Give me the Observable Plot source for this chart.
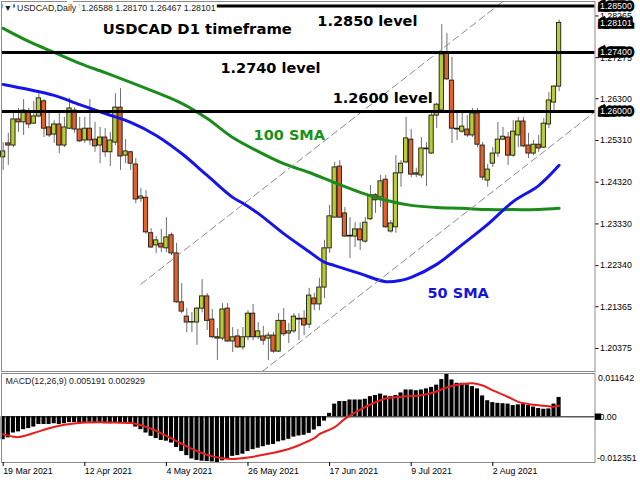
<!DOCTYPE html>
<html><head><meta charset="utf-8">
<script src="https://cdn.jsdelivr.net/npm/d3@7"></script>
<script src="https://cdn.jsdelivr.net/npm/@observablehq/plot@0.6"></script>
<style>
html,body{margin:0;padding:0;background:#fff;}
#chart svg{display:block;}
</style></head><body><div id="chart"></div>
<script>
// ---- data (bar index 0 = 19 Mar 2021) ----
const open = [1.2491,1.2524,1.2519,1.2581,1.2574,1.2597,1.2571,1.2588,1.2624,1.2562,
1.2545,1.2569,1.2519,1.2559,1.2602,1.2557,1.2531,1.2559,1.2533,1.2519,
1.2538,1.2503,1.2526,1.2609,1.2495,1.2503,1.2474,1.2393,1.2395,1.2311,
1.2282,1.2286,1.2275,1.2306,1.2263,1.2147,1.2113,1.2099,1.2099,1.2132,
1.2161,1.2106,1.2064,1.2061,1.2132,1.2054,1.2066,1.2040,1.2064,1.2120,
1.2064,1.2066,1.2061,1.2068,1.2030,1.2103,1.2073,1.2078,1.2108,1.2108,
1.2094,1.2156,1.2142,1.2182,1.2275,1.2348,1.2469,1.2358,1.2303,1.2303,
1.2320,1.2291,1.2344,1.2401,1.2396,1.2438,1.2315,1.2325,1.2453,1.2479,
1.2533,1.2453,1.2448,1.2512,1.2500,1.2590,1.2602,1.2737,1.2673,1.2559,
1.2552,1.2557,1.2543,1.2595,1.2519,1.2436,1.2476,1.2500,1.2533,1.2538,
1.2495,1.2543,1.2576,1.2519,1.2500,1.2521,1.2514,1.2569,1.2621,1.26588];
const high = [1.2526,1.2548,1.2595,1.2607,1.2628,1.2607,1.2624,1.2642,1.2628,1.2595,
1.2578,1.2597,1.2586,1.2631,1.2609,1.2586,1.2586,1.2628,1.2574,1.2562,
1.2559,1.2550,1.2642,1.2654,1.2533,1.2505,1.2488,1.2417,1.2412,1.2322,
1.2303,1.2320,1.2348,1.2311,1.2287,1.2191,1.2132,1.2123,1.2135,1.2201,
1.2168,1.2130,1.2085,1.2144,1.2144,1.2087,1.2082,1.2087,1.2127,1.2142,
1.2099,1.2090,1.2075,1.2075,1.2120,1.2132,1.2097,1.2120,1.2120,1.2127,
1.2180,1.2168,1.2204,1.2294,1.2377,1.2479,1.2483,1.2372,1.2348,1.2336,
1.2336,1.2348,1.2424,1.2405,1.2448,1.2448,1.2341,1.2495,1.2483,1.2586,
1.2557,1.2465,1.2538,1.2526,1.2595,1.2619,1.2806,1.2785,1.2728,1.2595,
1.2595,1.2590,1.2607,1.2607,1.2526,1.2474,1.2514,1.2574,1.2562,1.2550,
1.2578,1.2586,1.2586,1.2548,1.2531,1.2543,1.2583,1.2645,1.2661,1.28170];
const low = [1.2460,1.2472,1.2514,1.2550,1.2543,1.2559,1.2569,1.2585,1.2538,1.2538,
1.2524,1.2500,1.2514,1.2557,1.2548,1.2526,1.2524,1.2519,1.2503,1.2476,
1.2491,1.2469,1.2519,1.2460,1.2476,1.2460,1.2381,1.2384,1.2308,1.2275,
1.2263,1.2265,1.2265,1.2258,1.2144,1.2120,1.2075,1.2075,1.2045,1.2122,
1.2080,1.2061,1.2009,1.2056,1.2052,1.2028,1.2038,1.2033,1.2056,1.2056,
1.2059,1.2045,1.2009,1.2026,1.2028,1.2066,1.2049,1.2073,1.2056,1.2068,
1.2085,1.2127,1.2127,1.2156,1.2263,1.2346,1.2346,1.2301,1.2251,1.2277,
1.2270,1.2287,1.2341,1.2358,1.2372,1.2322,1.2311,1.2311,1.2420,1.2476,
1.2443,1.2443,1.2441,1.2422,1.2498,1.2559,1.2600,1.2673,1.2524,1.2531,
1.2548,1.2538,1.2538,1.2514,1.2436,1.2420,1.2467,1.2491,1.2531,1.2472,
1.2491,1.2514,1.2514,1.2488,1.2495,1.2503,1.2512,1.2559,1.2602,1.26467];
const close = [1.2505,1.2519,1.2581,1.2574,1.2602,1.2569,1.2588,1.2631,1.2559,1.2543,
1.2569,1.2519,1.2562,1.2607,1.2557,1.2529,1.2559,1.2531,1.2517,1.2538,
1.2503,1.2531,1.2609,1.2493,1.2505,1.2476,1.2391,1.2398,1.2313,1.2277,
1.2294,1.2277,1.2301,1.2263,1.2147,1.2125,1.2099,1.2100,1.2132,1.2161,
1.2103,1.2064,1.2061,1.2130,1.2054,1.2064,1.2040,1.2064,1.2120,1.2064,
1.2078,1.2056,1.2068,1.2030,1.2103,1.2071,1.2078,1.2113,1.2106,1.2092,
1.2163,1.2142,1.2182,1.2275,1.2351,1.2467,1.2348,1.2303,1.2305,1.2320,
1.2294,1.2336,1.2401,1.2389,1.2434,1.2325,1.2334,1.2453,1.2476,1.2536,
1.2450,1.2450,1.2512,1.2510,1.2590,1.2616,1.2735,1.2676,1.2559,1.2557,
1.2564,1.2543,1.2595,1.2521,1.2443,1.2462,1.2500,1.2533,1.2540,1.2495,
1.2552,1.2576,1.2517,1.2500,1.2521,1.2512,1.2571,1.2626,1.2659,1.28101];

const tickIdx = [0,16,32,48,64,80,96];
const tickLabels = ["19 Mar 2021","12 Apr 2021","4 May 2021","26 May 2021","17 Jun 2021","9 Jul 2021","2 Aug 2021"];
const priceTicks = [1.28265,1.27275,1.26300,1.25310,1.24320,1.23330,1.22340,1.21365,1.20375];
const levels = [1.2850,1.2740,1.2600];
const lastPrice = 1.28101;

const sma50Idx = [0,5,10,15,20,25,30,35,40,45,47,50,55,60,63,65,70,75,78,80,85,90,95,100,105,109];
const sma50    = [1.2664,1.2652,1.2638,1.2616,1.2595,1.2574,1.2543,1.2500,1.2448,1.2396,1.2382,1.2358,1.2310,1.2267,1.2242,1.2234,1.2215,1.2196,1.2199,1.2206,1.2237,1.2284,1.2332,1.2386,1.2424,1.2472];
const sma100Idx = [0,5,10,15,20,25,30,35,40,45,50,55,60,65,70,75,80,85,90,95,100,105,109];
const sma100    = [1.2797,1.2766,1.2740,1.2714,1.2692,1.2669,1.2645,1.2619,1.2583,1.2538,1.2505,1.2476,1.2455,1.2431,1.2408,1.2389,1.2377,1.2372,1.2370,1.2367,1.2367,1.2367,1.2370];

const macd = [-0.0062,-0.0057,-0.0044,-0.0041,-0.0035,-0.0032,-0.0028,-0.0021,-0.0021,-0.0021,
-0.0019,-0.0021,-0.0019,-0.0016,-0.0016,-0.0017,-0.0016,-0.0015,-0.0016,-0.0018,
-0.0019,-0.0019,-0.0016,-0.0018,-0.0016,-0.0018,-0.0028,-0.0035,-0.0044,-0.0053,
-0.0059,-0.0064,-0.0066,-0.0071,-0.0083,-0.0094,-0.0105,-0.0114,-0.0118,-0.0120,
-0.0121,-0.0122,-0.012351,-0.0119,-0.0115,-0.0107,-0.0105,-0.0101,-0.0094,-0.0089,
-0.0085,-0.0081,-0.0077,-0.0075,-0.0068,-0.0065,-0.0061,-0.0055,-0.0052,-0.0050,
-0.0045,-0.0036,-0.0027,-0.0012,0.0009,0.0034,0.0041,0.0041,0.0045,0.0045,
0.0045,0.0047,0.0054,0.0057,0.0061,0.0056,0.0054,0.0057,0.0064,0.0072,
0.0072,0.0070,0.0072,0.0075,0.0079,0.0085,0.0100,0.011642,0.0099,0.0090,
0.0090,0.0086,0.0081,0.0075,0.0056,0.0043,0.0038,0.0036,0.0035,0.0034,
0.0030,0.0032,0.0034,0.0030,0.0026,0.0022,0.0020,0.0021,0.0034,0.005191];
const sigIdx = [0,2,3,6,9,12,16,19,22,25,27,30,32,35,37,40,43,45,48,52,56,58,61,62,65,67,70,73,75,79,82,85,87,90,92,94,96,99,101,104,107,108,109];
const signal = [-0.0047,-0.0054,-0.0055,-0.0044,-0.0031,-0.0022,-0.0016,-0.0015,-0.0016,-0.0017,-0.0023,-0.0038,-0.0052,-0.0073,-0.0087,-0.0103,-0.0112,-0.0114,-0.0110,-0.0100,-0.0087,-0.0077,-0.0058,-0.0047,-0.0028,-0.0006,0.0019,0.0039,0.0049,0.0055,0.0058,0.0068,0.0079,0.0088,0.0090,0.0084,0.0071,0.0053,0.0040,0.0032,0.0028,0.0027,0.002929];

// channel anchor points (bar index, price)
const chanUpper = [{i:27,p:1.2190},{i:116,p:1.3031}];
const chanLower = [{i:27,p:1.1758},{i:116,p:1.2599}];

// ---- build tables ----
const bars = open.map((o,i)=>({i,o,h:high[i],l:low[i],c:close[i]}));
const s50 = sma50Idx.map((i,k)=>({i,v:sma50[k]}));
const s100 = sma100Idx.map((i,k)=>({i,v:sma100[k]}));
const hist = macd.map((v,i)=>({i,v}));
const sig = sigIdx.map((i,k)=>({i,v:signal[k]}));

const bull = "#b9cc30", bear = "#e3622a";
const xDomain = [-0.333, 116.04];
const fmt5 = d3.format(".5f");
const baseStyle = {fontFamily:"'Liberation Sans', Arial, sans-serif", fontSize:"8.8px", background:"#fff", color:"#000", overflow:"visible"};
const bold = {fontFamily:"'DejaVu Sans', sans-serif", fontWeight:"bold", fontSize:14.5, textAnchor:"start", lineAnchor:"bottom"};

const main = Plot.plot({
  width:640, height:372, marginLeft:1, marginRight:45.5, marginTop:1, marginBottom:1,
  x:{domain:xDomain, axis:null},
  y:{domain:[1.19828,1.28608], axis:null},
  style:baseStyle,
  marks:[
    Plot.ruleX(bars,{x:"i", y1:"l", y2:"h", stroke:"#6e6e6e", strokeWidth:1}),
    Plot.rect(bars,{x1:d=>d.i-0.42, x2:d=>d.i+0.42, y1:"o", y2:"c", fill:d=>d.c>=d.o?bull:bear, stroke:"#1a1a1a", strokeWidth:0.9}),
    Plot.ruleY(bars.filter(d=>Math.abs(d.o-d.c)<0.00006),{y:"c", x1:d=>d.i-0.45, x2:d=>d.i+0.45, stroke:"#1a1a1a", strokeWidth:1.2}),
    Plot.line(s100,{x:"i", y:"v", stroke:"#1b8c1b", strokeWidth:3, curve:"catmull-rom"}),
    Plot.line(s50,{x:"i", y:"v", stroke:"#1515ea", strokeWidth:3, curve:"catmull-rom"}),
    Plot.line(chanUpper,{x:"i", y:"p", stroke:"#8a8a8a", strokeWidth:1, strokeDasharray:"7,4", clip:true}),
    Plot.line(chanLower,{x:"i", y:"p", stroke:"#8a8a8a", strokeWidth:1, strokeDasharray:"7,4", clip:true}),
    Plot.ruleY(levels,{stroke:"#000", strokeWidth:3}),
    Plot.frame({stroke:"#8c8c8c"}),
    Plot.axisY({ticks:priceTicks, anchor:"right", tickSize:3, tickPadding:2, tickFormat:fmt5, label:null}),
    Plot.text([...levels,lastPrice],{y:d=>d, text:d=>fmt5(d), frameAnchor:"right", textAnchor:"start", dx:5, fill:"#fff", stroke:"#000", strokeWidth:5.5, strokeLinejoin:"miter"}),
    Plot.text(["\u25BC  USDCAD,Daily  1.26588 1.28170 1.26467 1.28101"],{frameAnchor:"top-left", dx:2, dy:7, textAnchor:"start", lineAnchor:"middle", fill:"#222", stroke:"#fff", strokeWidth:6}),
    Plot.text(["USDCAD D1 timeframe"],{x:19.5, y:1.27842, ...bold, fontSize:14.8}),
    Plot.text(["1.2850 level"],{x:61.6, y:1.28015, ...bold}),
    Plot.text(["1.2740 level"],{x:42.6, y:1.26923, ...bold}),
    Plot.text(["1.2600 level"],{x:64.6, y:1.26188, ...bold}),
    Plot.text(["100 SMA"],{x:49.1, y:1.25333, ...bold, fill:"#189218"}),
    Plot.text(["50 SMA"],{x:83.2, y:1.21584, ...bold, fill:"#1414dc"})
  ]
});

const sub = Plot.plot({
  width:640, height:108, marginLeft:1, marginRight:45.5, marginTop:1, marginBottom:18,
  x:{domain:xDomain, axis:null},
  y:{domain:[-0.012351,0.011642], axis:null},
  style:baseStyle,
  marks:[
    Plot.ruleY([0],{stroke:"#5a5a5a", strokeWidth:1.6}),
    Plot.rect(hist,{x1:d=>d.i-0.4, x2:d=>d.i+0.4, y1:0, y2:"v", fill:"#000"}),
    Plot.line(sig,{x:"i", y:"v", stroke:"#ea1c1c", strokeWidth:2, curve:"catmull-rom"}),
    Plot.frame({stroke:"#8c8c8c"}),
    Plot.axisX({ticks:tickIdx, tickSize:4, tickPadding:1.5, textAnchor:"start", tickFormat:d=>tickLabels[tickIdx.indexOf(d)], label:null}),
    Plot.text([0.011642],{y:d=>d, text:d=>String(d), frameAnchor:"right", textAnchor:"start", lineAnchor:"top", dx:3, dy:1.5}),
    Plot.dot([0],{y:d=>d, frameAnchor:"right", symbol:"square", r:3.6, dx:3, fill:"#000", stroke:"none"}),
    Plot.text([0],{y:d=>d, text:()=>"0.00", frameAnchor:"right", textAnchor:"start", lineAnchor:"middle", dx:4.5}),
    Plot.text([-0.012351],{y:d=>d, text:d=>String(d), frameAnchor:"right", textAnchor:"start", lineAnchor:"bottom", dx:2, dy:-1.5}),
    Plot.text(["MACD(12,26,9) 0.005191 0.002929"],{frameAnchor:"top-left", dx:4, dy:7.3, textAnchor:"start", lineAnchor:"middle", fill:"#222"})
  ]
});

document.getElementById("chart").append(main, sub);
</script>
</body></html>
